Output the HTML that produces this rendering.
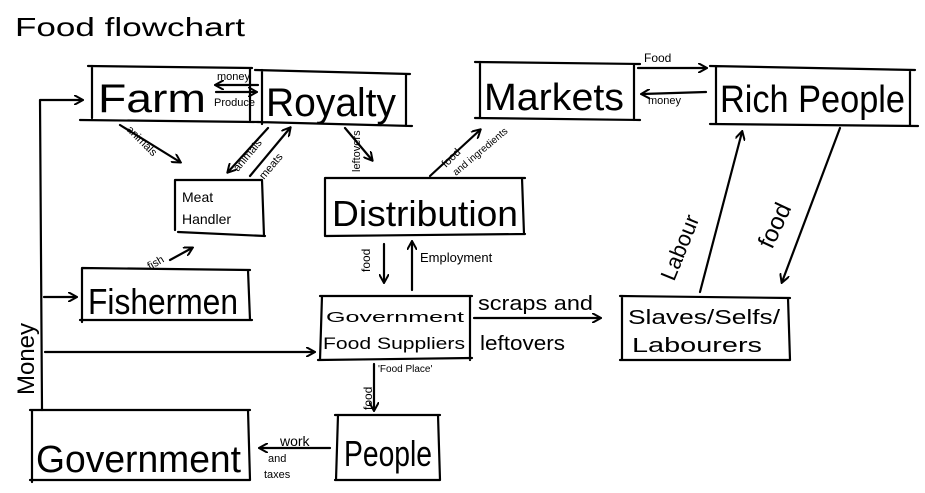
<!DOCTYPE html>
<html><head><meta charset="utf-8"><style>
html,body{margin:0;padding:0;background:#fff;width:925px;height:493px;overflow:hidden}
svg{display:block}
text{font-family:"Liberation Sans",sans-serif;fill:#000}
</style></head><body>
<svg width="925" height="493" viewBox="0 0 925 493" xmlns="http://www.w3.org/2000/svg">
<defs><marker id="a" markerWidth="10" markerHeight="10" refX="8" refY="5" orient="auto" markerUnits="userSpaceOnUse"><path d="M0,0 L9,5 L0,10" fill="none" stroke="#000" stroke-width="2"/></marker></defs>
<g fill="none" stroke="#000" stroke-width="2.2" stroke-linecap="round">
<path d="M88,66 L252,68 M80,120 L258,122 M92,66 L92,118 M250,68 L250,120"/>
<path d="M255,70 L410,74 M258,122 L412,126 M262,70 L262,124 M406,74 L406,126"/>
<path d="M475,62 L640,64 M475,118 L640,120 M480,62 L480,118 M634,64 L634,120"/>
<path d="M710,66 L915,70 M710,124 L918,126 M716,66 L716,124 M910,70 L910,126"/>
<path d="M175,180 L262,180 M175,180 L175,230 M262,180 L264,236 M178,232 L265,236"/>
<path d="M325,178 L525,178 M325,178 L325,236 M522,178 L524,234 M326,236 L525,234"/>
<path d="M82,268 L250,270 M82,268 L82,322 M248,270 L250,320 M80,320 L252,320"/>
<path d="M320,296 L472,296 M322,296 L320,360 M470,296 L470,360 M318,360 L472,358"/>
<path d="M620,296 L790,298 M622,296 L622,360 M788,298 L790,360 M620,360 L790,360"/>
<path d="M30,410 L250,410 M32,410 L32,482 M248,410 L250,480 M30,480 L250,480"/>
<path d="M335,415 L440,415 M338,415 L336,480 M438,415 L440,480 M335,480 L440,480"/>
<path d="M42,410 L40,100 M40,100 L82,100" marker-end="url(#a)"/>
<path d="M44,297 L76,297" marker-end="url(#a)"/>
<path d="M45,352 L314,352" marker-end="url(#a)"/>
<path d="M258,85 L216,85" marker-end="url(#a)"/>
<path d="M216,92 L256,92" marker-end="url(#a)"/>
<path d="M120,125 L180,162" marker-end="url(#a)"/>
<path d="M268,128 L228,172" marker-end="url(#a)"/>
<path d="M250,176 L290,128" marker-end="url(#a)"/>
<path d="M345,128 L372,160" marker-end="url(#a)"/>
<path d="M430,176 L480,130" marker-end="url(#a)"/>
<path d="M170,260 L192,248" marker-end="url(#a)"/>
<path d="M638,68 L706,68" marker-end="url(#a)"/>
<path d="M706,92 L642,94" marker-end="url(#a)"/>
<path d="M840,128 L782,282" marker-end="url(#a)"/>
<path d="M700,292 L742,132" marker-end="url(#a)"/>
<path d="M384,244 L384,282" marker-end="url(#a)"/>
<path d="M412,290 L412,242" marker-end="url(#a)"/>
<path d="M474,318 L600,318" marker-end="url(#a)"/>
<path d="M374,364 L374,410" marker-end="url(#a)"/>
<path d="M330,448 L260,448" marker-end="url(#a)"/>
</g>
<text x="15" y="36" font-size="26" textLength="230" lengthAdjust="spacingAndGlyphs">Food flowchart</text>
<text x="98" y="112" font-size="40" textLength="108" lengthAdjust="spacingAndGlyphs">Farm</text>
<text x="266" y="116" font-size="40" textLength="130" lengthAdjust="spacingAndGlyphs">Royalty</text>
<text x="484" y="110" font-size="38" textLength="140" lengthAdjust="spacingAndGlyphs">Markets</text>
<text x="720" y="112" font-size="38" textLength="185" lengthAdjust="spacingAndGlyphs">Rich People</text>
<text x="182" y="202" font-size="14">Meat</text>
<text x="182" y="224" font-size="14">Handler</text>
<text x="332" y="226" font-size="36" textLength="186" lengthAdjust="spacingAndGlyphs">Distribution</text>
<text x="88" y="314" font-size="36" textLength="150" lengthAdjust="spacingAndGlyphs">Fishermen</text>
<text x="326" y="322" font-size="15" textLength="138" lengthAdjust="spacingAndGlyphs">Government</text>
<text x="323" y="349" font-size="17" textLength="142" lengthAdjust="spacingAndGlyphs">Food Suppliers</text>
<text x="378" y="372" font-size="10">'Food Place'</text>
<text x="628" y="324" font-size="20" textLength="152" lengthAdjust="spacingAndGlyphs">Slaves/Selfs/</text>
<text x="632" y="352" font-size="20" textLength="130" lengthAdjust="spacingAndGlyphs">Labourers</text>
<text x="36" y="472" font-size="38" textLength="205" lengthAdjust="spacingAndGlyphs">Government</text>
<text x="344" y="466" font-size="36" textLength="88" lengthAdjust="spacingAndGlyphs">People</text>
<text x="217" y="80" font-size="11">money</text>
<text x="214" y="106" font-size="11">Produce</text>
<text x="478" y="310" font-size="20" textLength="115" lengthAdjust="spacingAndGlyphs">scraps and</text>
<text x="480" y="350" font-size="20" textLength="85" lengthAdjust="spacingAndGlyphs">leftovers</text>
<text x="644" y="62" font-size="12">Food</text>
<text x="648" y="104" font-size="11">money</text>
<text x="420" y="262" font-size="13">Employment</text>
<text x="280" y="446" font-size="14">work</text>
<text x="268" y="462" font-size="11">and</text>
<text x="264" y="478" font-size="11">taxes</text>
<text x="0" y="0" font-size="24" transform="translate(34,395) rotate(-90)">Money</text>
<text x="0" y="0" font-size="22" transform="translate(674,282) rotate(-68)">Labour</text>
<text x="0" y="0" font-size="24" transform="translate(772,250) rotate(-65)">food</text>
<text x="0" y="0" font-size="12" transform="translate(370,272) rotate(-90)">food</text>
<text x="0" y="0" font-size="12" transform="translate(372,410) rotate(-90)">food</text>
<text x="0" y="0" font-size="11" transform="translate(126,130) rotate(45)">animals</text>
<text x="0" y="0" font-size="11" transform="translate(238,172) rotate(-50)">animals</text>
<text x="0" y="0" font-size="11" transform="translate(264,180) rotate(-50)">meats</text>
<text x="0" y="0" font-size="11" transform="translate(360,172) rotate(-90)">leftovers</text>
<text x="0" y="0" font-size="11" transform="translate(446,168) rotate(-45)">food</text>
<text x="0" y="0" font-size="10" transform="translate(456,176) rotate(-40)">and ingredients</text>
<text x="0" y="0" font-size="11" transform="translate(150,270) rotate(-30)">fish</text>
</svg>
</body></html>
